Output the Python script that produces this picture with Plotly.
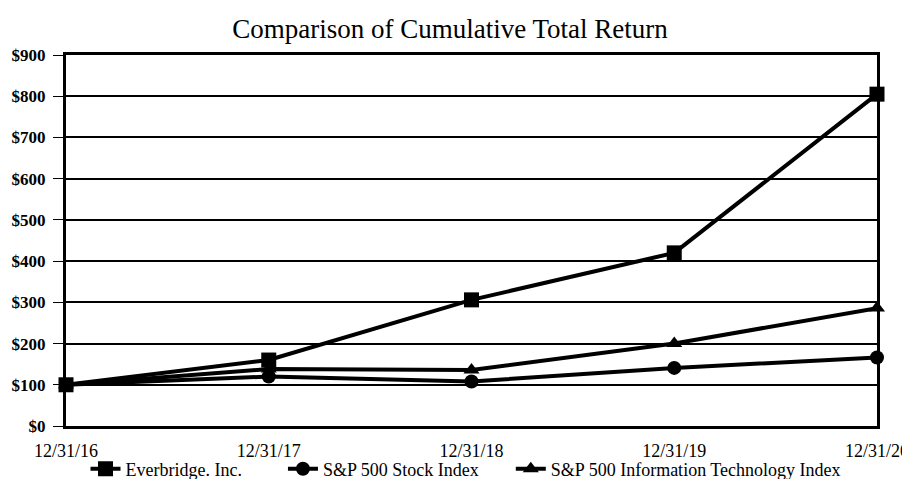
import plotly.graph_objects as go

dates = ["12/31/16", "12/31/17", "12/31/18", "12/31/19", "12/31/20"]
everbridge = [100, 160, 306, 420, 805]
sp500 = [100, 120, 108, 141, 166]
sp500_it = [100, 138, 136, 200, 286]

y_ticks = [0, 100, 200, 300, 400, 500, 600, 700, 800, 900]
y_labels = ["$" + str(v) for v in y_ticks]

serif = "Liberation Serif"

# page body has an 8px margin, so the figure is shifted by (8, 8)
W, H = 902, 471

fig = go.Figure()
series = [
    ("Everbridge. Inc.", everbridge, "square", 15, 8),
    ("S&P 500 Stock Index", sp500, "circle", 14, 6),
    ("S&P 500 Information Technology Index", sp500_it, "triangle-up", 14, 0),
]
for name, vals, sym, sz, pad in series:
    fig.add_trace(go.Scatter(
        x=list(range(len(dates))), y=vals, name=name + "\u00a0" * pad, mode="lines+markers",
        line=dict(color="black", width=4),
        marker=dict(symbol=sym, size=sz, color="black"),
        cliponaxis=False,
    ))

fig.update_layout(
    width=W, height=H,
    margin=dict(l=58, r=33, t=47, b=53, autoexpand=False),
    paper_bgcolor="white", plot_bgcolor="white",
    title=dict(text="Comparison of Cumulative Total Return", x=(450 - 8) / W, xanchor="center",
               xref="container", y=1 - 21 / H, yanchor="middle",
               font=dict(family=serif, size=27, color="black")),
    showlegend=True,
    legend=dict(orientation="h", xref="container", x=(466 - 8) / W, xanchor="center",
                yref="container", y=(H - 461) / H, yanchor="middle",
                font=dict(family=serif, size=18, color="black"),
                itemwidth=30, tracegroupgap=0, bgcolor="rgba(0,0,0,0)"),
    font=dict(family=serif, color="black"),
)
fig.update_xaxes(
    range=[0, 4], tickmode="array", tickvals=list(range(len(dates))), ticktext=dates,
    showgrid=False, zeroline=False, automargin=False,
    showline=True, linecolor="black", linewidth=3, mirror=True,
    ticks="", ticklabelstandoff=6, ticklabeloverflow="allow",
    tickfont=dict(family=serif, size=18, color="black"),
)
fig.update_yaxes(
    range=[0, 900], tickmode="array", tickvals=y_ticks, ticktext=y_labels,
    showgrid=True, gridcolor="black", gridwidth=1.5, zeroline=False, automargin=False,
    showline=True, linecolor="black", linewidth=3, mirror=True,
    ticks="outside", ticklen=10, tickcolor="black", tickwidth=1,
    ticklabelstandoff=4,
    tickfont=dict(family=serif, size=17, color="black", weight="bold"),
)

fig.write_html("out.html")
